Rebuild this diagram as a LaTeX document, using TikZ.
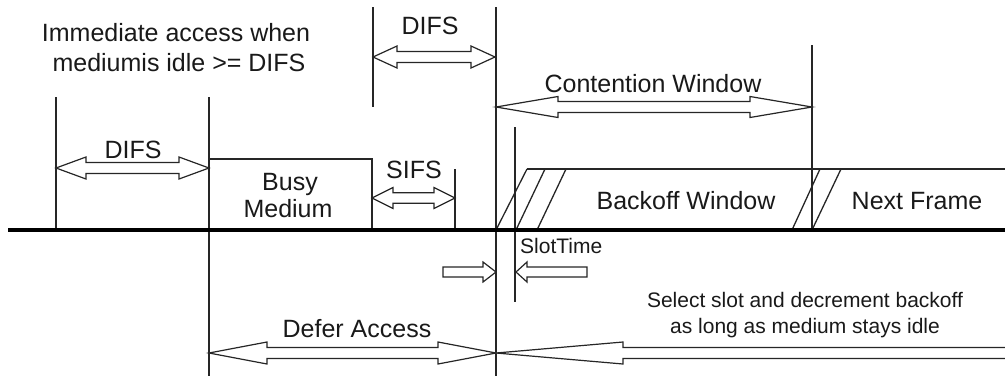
\documentclass[tikz,border=0pt]{standalone}
\usepackage{fontspec}
\setmainfont{Liberation Sans}
\tikzset{
  thinline/.style={line width=1.3pt, draw=black!85},
  baseline/.style={line width=4pt, draw=black},
  hollowarrow/.style={line width=1.2pt, draw=black!85, fill=white, line join=miter},
  lbl/.style={font=\fontsize{25}{30}\selectfont, inner sep=0pt, anchor=base, text=black!90},
  smalllbl/.style={font=\fontsize{21}{26}\selectfont, inner sep=0pt, anchor=base, text=black!90},
}
% double hollow arrow: x1 x2 y headlen headhalf shafthalf
\newcommand{\dblarr}[6]{%
  \draw[hollowarrow] (#1,#3) -- ({#1+#4},{#3-#5}) -- ({#1+#4},{#3-#6}) -- ({#2-#4},{#3-#6})
    -- ({#2-#4},{#3-#5}) -- (#2,#3) -- ({#2-#4},{#3+#5}) -- ({#2-#4},{#3+#6})
    -- ({#1+#4},{#3+#6}) -- ({#1+#4},{#3+#5}) -- cycle;}
% right-pointing: tail tip y headlen headhalf shafthalf
\newcommand{\rarr}[6]{%
  \draw[hollowarrow] (#1,{#3-#6}) -- ({#2-#4},{#3-#6}) -- ({#2-#4},{#3-#5}) -- (#2,#3)
    -- ({#2-#4},{#3+#5}) -- ({#2-#4},{#3+#6}) -- (#1,{#3+#6}) -- cycle;}
% left-pointing: tip tail y headlen headhalf shafthalf
\newcommand{\larr}[6]{%
  \draw[hollowarrow] (#2,{#3-#6}) -- ({#1+#4},{#3-#6}) -- ({#1+#4},{#3-#5}) -- (#1,#3)
    -- ({#1+#4},{#3+#5}) -- ({#1+#4},{#3+#6}) -- (#2,{#3+#6}) -- cycle;}
\begin{document}
\begin{tikzpicture}[x=1pt,y=-1pt]
\useasboundingbox (0,0) rectangle (1005,376);
% vertical markers
\draw[thinline] (56,97) -- (56,230);
\draw[thinline] (209,97) -- (209,376);
\draw[thinline] (209,230) -- (209,159) -- (372,159) -- (372,230);
\draw[thinline] (455,169) -- (455,230);
\draw[thinline] (373,7) -- (373,107);
\draw[thinline] (496,7) -- (496,376);
\draw[thinline] (812,45) -- (812,230);
\draw[thinline] (515,127) -- (515,302);
% backoff window / next frame
\draw[thinline] (527,169) -- (1005,169);
\draw[thinline] (496,230) -- (527,169);
\draw[thinline] (516,230) -- (545,169);
\draw[thinline] (537,230) -- (566,169);
\draw[thinline] (792,230) -- (820,169);
\draw[thinline] (812,230) -- (841,169);
% time axis
\draw[baseline] (8,230) -- (1005,230);
% arrows
\dblarr{56}{209}{168}{30}{11}{5.5}
\dblarr{373}{495}{57}{24}{11}{5.5}
\dblarr{372}{455}{198}{21}{10.5}{5.3}
\dblarr{496}{812}{107}{62}{10.5}{5.5}
\dblarr{209}{496}{353}{58}{11}{5.5}
\rarr{443}{496}{272}{13}{10}{5}
\larr{516}{587}{272}{11}{10}{5}
\draw[hollowarrow] (1006,347.5) -- (623,347.5) -- (623,342) -- (496,353) -- (623,364) -- (623,358.5) -- (1006,358.5);
% labels
\node[lbl] (imm1) at (176,41) {Immediate access when};
\node[lbl] (imm2) at (179,71) {mediumis idle >= DIFS};
\node[lbl] (difsA) at (133,158) {DIFS};
\node[lbl] (difsB) at (430,34) {DIFS};
\node[lbl] (busy1) at (290,190) {Busy};
\node[lbl] (busy2) at (288,217) {Medium};
\node[lbl] (sifs) at (414,178) {SIFS};
\node[lbl] (cw) at (653,92) {Contention Window};
\node[lbl] (bw) at (686,209) {Backoff Window};
\node[lbl] (nf) at (917,209) {Next Frame};
\node[lbl] (defer) at (357,337) {Defer Access};
\node[smalllbl, anchor=base west] (slot) at (520,253) {SlotTime};
\node[smalllbl] (sel1) at (805,307) {Select slot and decrement backoff};
\node[smalllbl] (sel2) at (805,333) {as long as medium stays idle};
\end{tikzpicture}
\end{document}
